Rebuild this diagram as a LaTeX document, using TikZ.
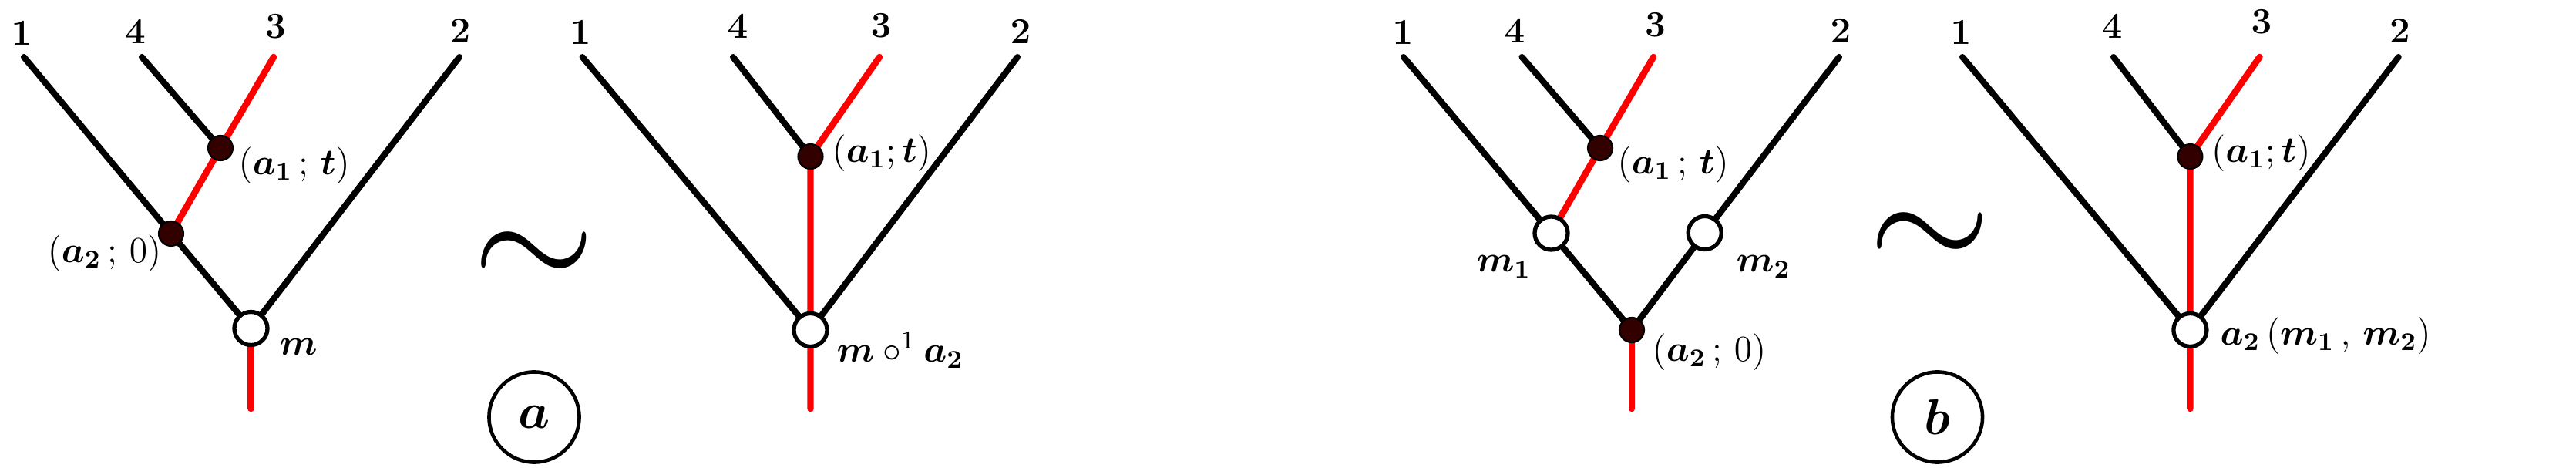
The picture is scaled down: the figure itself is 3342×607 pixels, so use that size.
\RequirePackage{fix-cm}
\documentclass[tikz,border=0pt]{standalone}
\usepackage{amsmath}
\usepackage{amssymb}
\usepackage{xcolor}
\usepackage{tikz}
\usetikzlibrary{backgrounds}

\definecolor{vertexfill}{RGB}{51,0,0}

\begin{document}
\begin{tikzpicture}[
    x=0.01cm, y=0.01cm,
    every node/.style={font=\fontsize{13.5}{16}\selectfont},
    fullvertex/.style={circle,draw,line width=0.6pt,fill=vertexfill,minimum size=0.32cm,inner sep=0pt},
    openvertex/.style={circle,draw,line width=1.5pt,fill=white,minimum size=0.43cm,inner sep=0pt},
    branch/.style={line width=2.3pt,line cap=round,line join=round},
    redbranch/.style={branch,red,line width=2.4pt},
    digit/.style={inner sep=0pt,anchor=south},
    lab/.style={inner sep=0pt},
    tag/.style={circle,draw,line width=1.3pt,minimum size=1.17cm,inner sep=0pt,font=\fontsize{18.5}{20}\selectfont},
    twiddle/.style={inner sep=0pt,font=\fontsize{58}{60}\selectfont},
]
    \useasboundingbox (0,0) rectangle (3342,-607);

    % tree (a), left
    \node[digit] (la1) at (28,-59) {$\mathbf{1}$};
    \node[digit] (la4) at (175.5,-57) {$\mathbf{4}$};
    \node[digit] (la3) at (357.5,-50) {$\mathbf{3}$};
    \node[digit] (la2) at (597,-56) {$\mathbf{2}$};
    \coordinate (la1end) at (31,-74);
    \coordinate (la4end) at (184,-74);
    \coordinate (la3end) at (355,-74);
    \coordinate (la2end) at (596,-74);
    \node[fullvertex] (laa1) at (286,-192) {};
    \node[fullvertex] (laa2) at (222,-303) {};
    \node[openvertex] (lam) at (325.5,-426) {};
    \coordinate (laroot) at (325.5,-530);
    \node[lab,anchor=west] (laa1t) at (309,-215) {$(\boldsymbol{a_1}\,;\,\boldsymbol{t})$};
    \node[lab,anchor=east] (laa2t) at (210,-329) {$(\boldsymbol{a_2}\,;\,0)$};
    \node[lab,anchor=base west] (lamt) at (362,-461) {$\boldsymbol{m}$};

    % tree (a), right
    \node[digit] (ra1) at (753,-58) {$\mathbf{1}$};
    \node[digit] (ra4) at (957,-50) {$\mathbf{4}$};
    \node[digit] (ra3) at (1143,-49.5) {$\mathbf{3}$};
    \node[digit] (ra2) at (1324,-57) {$\mathbf{2}$};
    \coordinate (ra1end) at (755.6,-74);
    \coordinate (ra4end) at (951,-74);
    \coordinate (ra3end) at (1141,-74);
    \coordinate (ra2end) at (1320,-74);
    \node[fullvertex] (raa1) at (1051.5,-203) {};
    \node[openvertex] (ram) at (1051.5,-428) {};
    \coordinate (raroot) at (1051.5,-530);
    \node[lab,anchor=west] (raa1t) at (1079,-199) {$(\boldsymbol{a_1};\boldsymbol{t})$};
    \node[lab,anchor=base west] (ramt) at (1085,-470) {$\boldsymbol{m}\circ^{1}\boldsymbol{a_2}$};

    % tree (b), left
    \node[digit] (lb1) at (1820,-58) {$\mathbf{1}$};
    \node[digit] (lb4) at (1965,-56) {$\mathbf{4}$};
    \node[digit] (lb3) at (2147.5,-48) {$\mathbf{3}$};
    \node[digit] (lb2) at (2388,-56) {$\mathbf{2}$};
    \coordinate (lb1end) at (1821,-74);
    \coordinate (lb4end) at (1974.5,-74);
    \coordinate (lb3end) at (2145,-74);
    \coordinate (lb2end) at (2386,-74);
    \node[fullvertex] (lba1) at (2076,-192) {};
    \node[openvertex] (lbm1) at (2012.5,-302.5) {};
    \node[openvertex] (lbm2) at (2211.7,-302) {};
    \node[fullvertex] (lba2) at (2117,-428) {};
    \coordinate (lbroot) at (2117,-530);
    \node[lab,anchor=west] (lba1t) at (2098,-214) {$(\boldsymbol{a_1}\,;\,\boldsymbol{t})$};
    \node[lab,anchor=base west] (lbm1t) at (1915,-353) {$\boldsymbol{m_1}$};
    \node[lab,anchor=base west] (lbm2t) at (2252,-353) {$\boldsymbol{m_2}$};
    \node[lab,anchor=west] (lba2t) at (2143,-457) {$(\boldsymbol{a_2}\,;\,0)$};

    % tree (b), right
    \node[digit] (rb1) at (2544,-58) {$\mathbf{1}$};
    \node[digit] (rb4) at (2740,-50) {$\mathbf{4}$};
    \node[digit] (rb3) at (2934,-44.5) {$\mathbf{3}$};
    \node[digit] (rb2) at (3113.5,-56) {$\mathbf{2}$};
    \coordinate (rb1end) at (2546,-74);
    \coordinate (rb4end) at (2742,-74);
    \coordinate (rb3end) at (2931.5,-74);
    \coordinate (rb2end) at (3111.7,-74);
    \node[fullvertex] (rba1) at (2841.4,-203) {};
    \node[openvertex] (rbm) at (2841.4,-428) {};
    \coordinate (rbroot) at (2841.4,-530);
    \node[lab,anchor=west] (rba1t) at (2868.5,-199) {$(\boldsymbol{a_1};\boldsymbol{t})$};
    \node[lab,anchor=west] (rbmt) at (2880,-436) {$\boldsymbol{a_2}\,(\boldsymbol{m_1}\,,\,\boldsymbol{m_2})$};

    % the two relations
    \node[twiddle] (simA) at (693,-338) {$\sim$};
    \node[tag] (tagA) at (693,-541) {$\boldsymbol{a}$};
    \node[twiddle] (simB) at (2503.5,-313) {$\sim$};
    \node[tag] (tagB) at (2513.5,-541) {$\boldsymbol{b}$};

    \begin{scope}[on background layer]
        \draw[branch] (la1end) -- (laa2.center) -- (lam.center);
        \draw[branch] (la4end) -- (laa1.center);
        \draw[branch] (la2end) -- (lam.center);
        \draw[redbranch] (la3end) -- (laa1.center) -- (laa2.center);
        \draw[redbranch] (lam.center) -- (laroot);

        \draw[branch] (ra1end) -- (ram.center);
        \draw[branch] (ra4end) -- (raa1.center);
        \draw[branch] (ra2end) -- (ram.center);
        \draw[redbranch] (ra3end) -- (raa1.center) -- (ram.center) -- (raroot);

        \draw[branch] (lb1end) -- (lbm1.center) -- (lba2.center);
        \draw[branch] (lb4end) -- (lba1.center);
        \draw[branch] (lb2end) -- (lbm2.center) -- (lba2.center);
        \draw[redbranch] (lb3end) -- (lba1.center) -- (lbm1.center);
        \draw[redbranch] (lba2.center) -- (lbroot);

        \draw[branch] (rb1end) -- (rbm.center);
        \draw[branch] (rb4end) -- (rba1.center);
        \draw[branch] (rb2end) -- (rbm.center);
        \draw[redbranch] (rb3end) -- (rba1.center) -- (rbm.center) -- (rbroot);
    \end{scope}
\end{tikzpicture}
\end{document}
